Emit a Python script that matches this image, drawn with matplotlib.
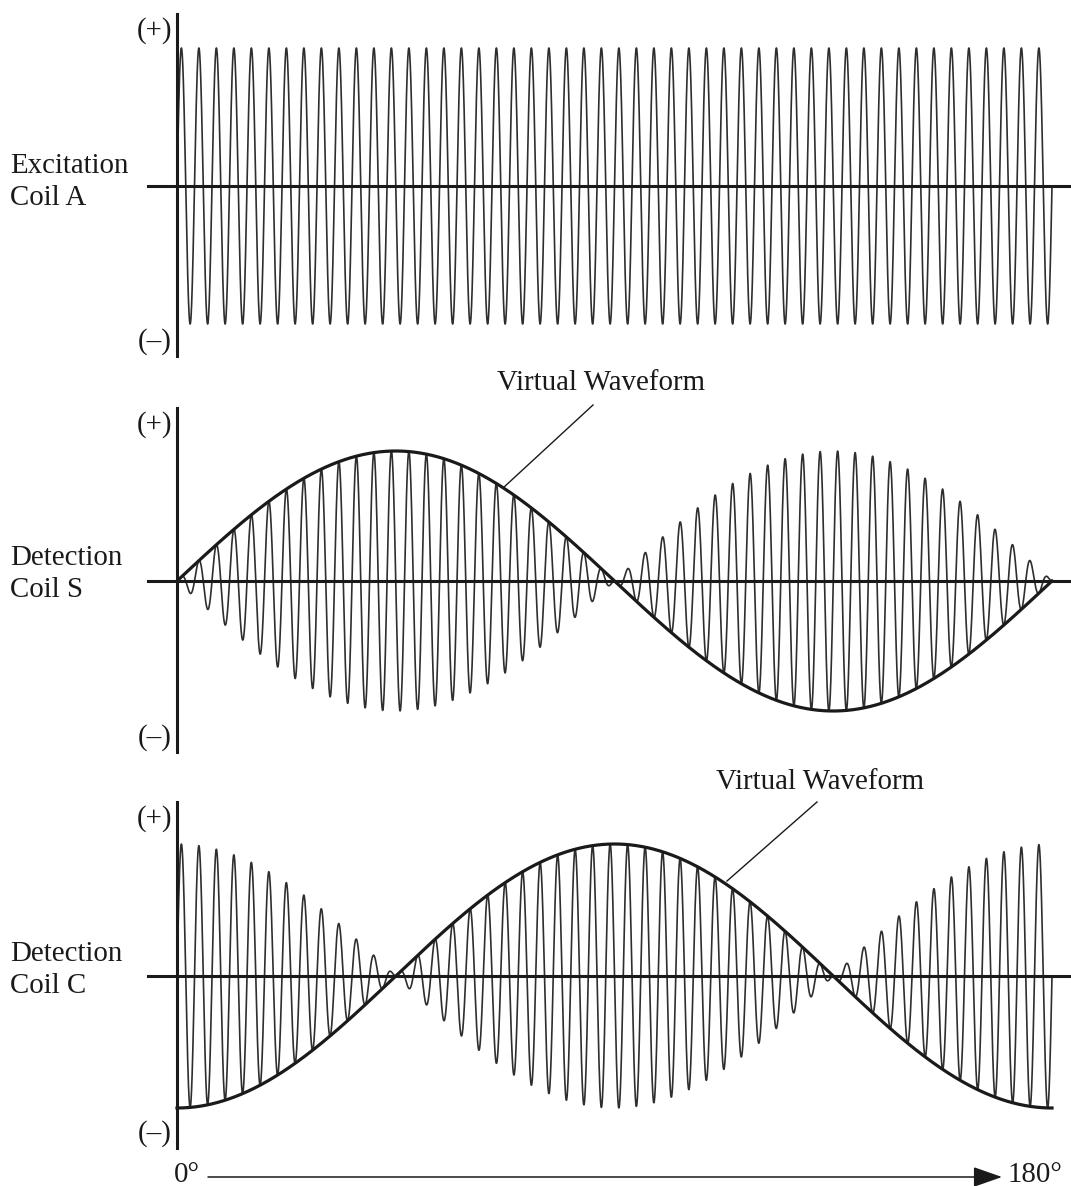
import numpy as np
import matplotlib
matplotlib.use("Agg")
import matplotlib.pyplot as plt

# ---------------- data ----------------
angle_start_deg = 0
angle_end_deg = 180
carrier_cycles = 50          # excitation cycles across 0..180 deg
envelope_cycles = 1          # virtual waveform cycles across 0..180 deg
n_samples = 30000
panel_labels = ["Excitation\nCoil A", "Detection\nCoil S", "Detection\nCoil C"]
envelope_kind = ["none", "sin", "-cos"]
pos_label = "(+)"
neg_label = "(\u2013)"
virtual_label = "Virtual Waveform"
x_start_label = "0\u00b0"
x_end_label = "180\u00b0"

# ---------------- layout (pixels) ----------------
W, H, DPI = 1071, 1186, 100
X_LEFT, X_RIGHT = 148, 1071
X0_PX, X180_PX = 177, 1052
# (top of vertical axis, bottom of vertical axis, zero line, amplitude px)
panels_px = [(14, 356, 186, 138), (408, 752, 581, 130), (802, 1148, 976, 132)]
label_dy = [-4, -7, -6]

FONT = "Liberation Serif"
FS = 20.8
INK = "#1a1a1a"

fig = plt.figure(figsize=(W / DPI, H / DPI), dpi=DPI)
fig.patch.set_facecolor("white")

# overlay axes in pixel coords for texts / arrows
ov = fig.add_axes([0, 0, 1, 1])
ov.set_xlim(0, W)
ov.set_ylim(H, 0)
ov.axis("off")

theta = np.linspace(angle_start_deg, angle_end_deg, n_samples)
carrier = np.sin(2 * np.pi * carrier_cycles * theta / angle_end_deg)
env_phase = 2 * np.pi * envelope_cycles * theta / angle_end_deg

deg_per_px = (angle_end_deg - angle_start_deg) / (X180_PX - X0_PX)
xlim = (angle_start_deg - (X0_PX - X_LEFT) * deg_per_px,
        angle_end_deg + (X_RIGHT - X180_PX) * deg_per_px)

for i, (ytop, ybot, yzero, amp) in enumerate(panels_px):
    rect = [X_LEFT / W, 1 - ybot / H, (X_RIGHT - X_LEFT) / W, (ybot - ytop) / H]
    ax = fig.add_axes(rect)
    ax.set_xlim(*xlim)
    ax.set_ylim(-(ybot - yzero) / amp, (yzero - ytop) / amp)
    ax.axis("off")
    ax.patch.set_alpha(0)

    kind = envelope_kind[i]
    if kind == "none":
        sig = carrier
        env = None
    elif kind == "sin":
        sig = carrier * np.sin(env_phase)
        env = np.sin(env_phase)
    else:
        sig = carrier * np.cos(env_phase)
        env = -np.cos(env_phase)

    ax.plot(theta, sig, color="#2e2e2e", lw=1.2, solid_joinstyle="round", clip_on=False)
    if env is not None:
        ax.plot(theta, env, color=INK, lw=2.3, clip_on=False)
    ax.axhline(0, color=INK, lw=2.2, clip_on=False)
    ax.axvline(0, color=INK, lw=2.2, clip_on=False)

    # (+)/(–)
    ov.text(172, ytop + 17, pos_label, ha="right", va="center",
            fontsize=FS, family=FONT, color=INK)
    ov.text(172, ybot - 14, neg_label, ha="right", va="center",
            fontsize=FS, family=FONT, color=INK)
    ov.text(10, yzero + label_dy[i], panel_labels[i], ha="left", va="center",
            fontsize=FS, family=FONT, color=INK, linespacing=1.32)

# Virtual waveform annotations
ov.text(601, 383, virtual_label, ha="center", va="center",
        fontsize=FS, family=FONT, color=INK)
ov.plot([593, 503], [405, 488], color=INK, lw=1.0)
ov.text(820, 782, virtual_label, ha="center", va="center",
        fontsize=FS, family=FONT, color=INK)
ov.plot([817, 727], [802, 881], color=INK, lw=1.0)

# bottom angle arrow
ov.text(187, 1175, x_start_label, ha="center", va="center",
        fontsize=FS, family=FONT, color=INK)
ov.annotate("", xy=(1002, 1177), xytext=(208, 1177),
            arrowprops=dict(arrowstyle="-|>,head_length=1.0,head_width=0.35",
                            mutation_scale=18, lw=1.1, color=INK,
                            shrinkA=0, shrinkB=0))
ov.text(1008, 1175, x_end_label, ha="left", va="center",
        fontsize=FS, family=FONT, color=INK)

fig.savefig("out.png", dpi=DPI, facecolor="white")
